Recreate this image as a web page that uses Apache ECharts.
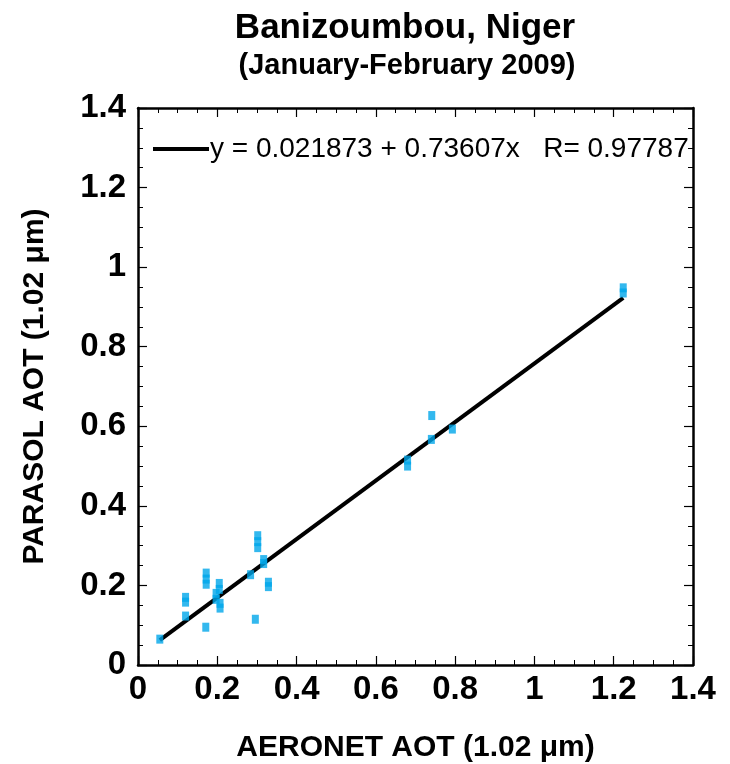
<!DOCTYPE html>
<html>
<head>
<meta charset="utf-8">
<script src="https://cdn.jsdelivr.net/npm/echarts@6/dist/echarts.min.js"></script>
<style>
  html, body { margin: 0; padding: 0; background: #fff; }
  #chart { width: 730px; height: 764px; }
</style>
</head>
<body>
<div id="chart"></div>
<script>
// AERONET vs PARASOL aerosol optical thickness at 1.02 µm, Banizoumbou
const aeronetAot = [
  0.055, 0.120, 0.120, 0.120, 0.171, 0.172, 0.172, 0.172,
  0.197, 0.197, 0.205, 0.205, 0.207, 0.207, 0.284, 0.296,
  0.302, 0.302, 0.302, 0.317, 0.317, 0.329, 0.329,
  0.680, 0.680, 0.740, 0.741, 0.793, 1.224, 1.224
];
const parasolAot = [
  0.065, 0.170, 0.158, 0.123, 0.095, 0.231, 0.216, 0.203,
  0.180, 0.165, 0.205, 0.190, 0.155, 0.143, 0.227, 0.115,
  0.325, 0.310, 0.295, 0.265, 0.255, 0.208, 0.197,
  0.515, 0.500, 0.567, 0.627, 0.593, 0.948, 0.935
];

// Linear fit coefficients and correlation
const fitIntercept = 0.021873;
const fitSlope = 0.73607;
const fitR = 0.97787;
const fitRange = [0.055, 1.224];

const axisTicks = { min: 0, max: 1.4, interval: 0.2 };

const points = aeronetAot.map((x, i) => [x, parasolAot[i]]);
const fitLine = fitRange.map(x => [x, fitIntercept + fitSlope * x]);
const fitName = 'y = ' + fitIntercept + ' + ' + fitSlope + 'x   R= ' + fitR;

const FONT = '"Liberation Sans", Arial, Helvetica, sans-serif';

function frameAxis(position, showLabels) {
  return {
    type: 'value',
    position: position,
    min: axisTicks.min,
    max: axisTicks.max,
    interval: axisTicks.interval,
    axisLine: { show: true, onZero: false, lineStyle: { color: '#000', width: 2.5 } },
    axisTick: { show: true, inside: true, length: 9, lineStyle: { color: '#000', width: 1.2 } },
    minorTick: { show: true, splitNumber: 4, length: 5, lineStyle: { color: '#000', width: 1 } },
    splitLine: { show: false },
    axisLabel: {
      show: showLabels,
      color: '#000',
      fontFamily: FONT,
      fontWeight: 'bold',
      fontSize: 33
    }
  };
}

const chart = echarts.init(document.getElementById('chart'), null, { renderer: 'canvas' });

const xBottom = frameAxis('bottom', true);
xBottom.axisLabel.margin = 8;
xBottom.name = 'AERONET AOT (1.02 \u03bcm)';
xBottom.nameLocation = 'middle';
xBottom.nameGap = 68;
xBottom.nameTextStyle = { color: '#000', fontFamily: FONT, fontWeight: 'bold', fontSize: 30 };

const yLeft = frameAxis('left', true);
yLeft.axisLabel.margin = 12;
yLeft.name = 'PARASOL AOT (1.02 \u03bcm)';
yLeft.nameLocation = 'middle';
yLeft.nameGap = 88;
yLeft.nameTextStyle = { color: '#000', fontFamily: FONT, fontWeight: 'bold', fontSize: 30 };

chart.setOption({
  animation: false,
  backgroundColor: '#fff',
  title: [
    {
      text: 'Banizoumbou, Niger',
      left: 400, top: 6, textAlign: 'center',
      textStyle: { color: '#000', fontFamily: FONT, fontWeight: 'bold', fontSize: 35 }
    },
    {
      text: '(January-February 2009)',
      left: 402, top: 46, textAlign: 'center',
      textStyle: { color: '#000', fontFamily: FONT, fontWeight: 'bold', fontSize: 29 }
    }
  ],
  legend: {
    left: 148, top: 130,
    itemWidth: 56, itemHeight: 4, itemGap: 0,
    icon: 'rect',
    data: [fitName],
    textStyle: { color: '#000', fontFamily: FONT, fontSize: 28, padding: [0, 0, 0, -4] }
  },
  grid: { left: 138, right: 37, top: 108, bottom: 99, containLabel: false, outerBoundsMode: 'none' },
  xAxis: [xBottom, frameAxis('top', false)],
  yAxis: [yLeft, frameAxis('right', false)],
  series: [
    {
      name: fitName,
      type: 'line',
      xAxisIndex: 0, yAxisIndex: 0,
      data: fitLine,
      showSymbol: false,
      symbol: 'none',
      lineStyle: { color: '#000', width: 4 },
      itemStyle: { color: '#000' },
      z: 2
    },
    {
      name: 'PARASOL',
      type: 'scatter',
      xAxisIndex: 0, yAxisIndex: 0,
      symbol: 'rect',
      symbolSize: [7, 9],
      itemStyle: { color: '#00A6EA' },
      data: points,
      z: 3
    }
  ]
});
</script>
</body>
</html>
